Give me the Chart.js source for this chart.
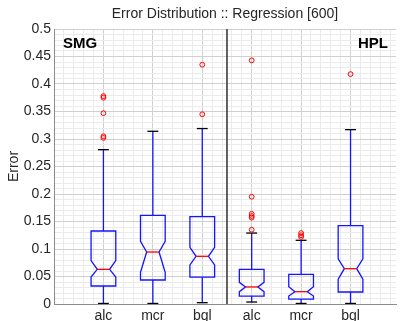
<!DOCTYPE html>
<html><head><meta charset="utf-8">
<script src="https://cdn.jsdelivr.net/npm/chart.js@4"></script>
<style>html,body{margin:0;padding:0;background:#fff}#wrap{width:401px;height:321px}</style>
</head><body><div id="wrap"><canvas id="c" width="401" height="321"></canvas></div>
<script>
const chartTitle = 'Error Distribution :: Regression [600]';
const yAxisTitle = 'Error';
const groups = ['SMG', 'HPL'];
const categories = ['alc', 'mcr', 'bgl', 'alc', 'mcr', 'bgl'];
const whiskerLo = [0.001, 0.001, 0.0024, 0.0036, 0.001, 0.001];
const q1        = [0.0327, 0.0436, 0.049, 0.0145, 0.009, 0.0218];
const median    = [0.063, 0.0945, 0.0867, 0.031, 0.0224, 0.0642];
const q3        = [0.1327, 0.161, 0.159, 0.063, 0.054, 0.1424];
const whiskerHi = [0.2806, 0.314, 0.319, 0.129, 0.1158, 0.317];
const notchLo   = [0.049, 0.0576, 0.071, 0.0224, 0.0145, 0.045];
const notchHi   = [0.0788, 0.114, 0.103, 0.0394, 0.0315, 0.082];
const outliers  = [
  [0.378, 0.375, 0.347, 0.305, 0.302],
  [],
  [0.435, 0.345],
  [0.443, 0.195, 0.164, 0.160, 0.157, 0.135],
  [0.129, 0.125, 0.122],
  [0.418]
];
const yTickLabels = ['0', '0.05', '0.1', '0.15', '0.2', '0.25', '0.3', '0.35', '0.4', '0.45', '0.5'];

const Y_MAX = 0.5, Y_MAJOR = 0.05, Y_MINOR = 0.01;
const X_MAX = 6.92, X_MINOR = 0.2;
const BOX_HW = 0.25, CAP_HW = 0.11;
const FONT = "'Liberation Sans', Arial, Helvetica, sans-serif";
const TXT = '#262626';
const BLUE = '#1414ff';

const outlierPoints = [];
outliers.forEach((arr, i) => arr.forEach(v => outlierPoints.push({x: i + 1, y: v})));

function isMult(v, step) { const r = v / step; return Math.abs(r - Math.round(r)) < 1e-6; }

const boxPlugin = {
  id: 'boxes',
  beforeDatasetsDraw(chart) {
    const {ctx, chartArea: a, scales: {x, y}} = chart;
    const X = v => x.getPixelForValue(v), Y = v => y.getPixelForValue(v);
    ctx.save();
    ctx.beginPath(); ctx.rect(a.left, a.top, a.right - a.left, a.bottom - a.top); ctx.clip();
    // group separator
    const split = categories.length / groups.length + 0.5;
    ctx.strokeStyle = '#3c3c3c'; ctx.lineWidth = 1.6;
    ctx.beginPath(); ctx.moveTo(X(split), a.top); ctx.lineTo(X(split), a.bottom); ctx.stroke();
    const seg = (x1, y1, x2, y2) => { ctx.beginPath(); ctx.moveTo(x1, y1); ctx.lineTo(x2, y2); ctx.stroke(); };
    categories.forEach((c, i) => {
      const cx = i + 1;
      ctx.lineWidth = 1.3;
      ctx.strokeStyle = BLUE;
      seg(X(cx), Y(q3[i]), X(cx), Y(whiskerHi[i]));
      seg(X(cx), Y(whiskerLo[i]), X(cx), Y(q1[i]));
      ctx.strokeStyle = '#000';
      seg(X(cx - CAP_HW), Y(whiskerHi[i]), X(cx + CAP_HW), Y(whiskerHi[i]));
      seg(X(cx - CAP_HW), Y(whiskerLo[i]), X(cx + CAP_HW), Y(whiskerLo[i]));
      ctx.strokeStyle = BLUE;
      ctx.beginPath();
      ctx.moveTo(X(cx - BOX_HW), Y(q1[i]));
      ctx.lineTo(X(cx - BOX_HW), Y(notchLo[i]));
      ctx.lineTo(X(cx - BOX_HW / 2), Y(median[i]));
      ctx.lineTo(X(cx - BOX_HW), Y(notchHi[i]));
      ctx.lineTo(X(cx - BOX_HW), Y(q3[i]));
      ctx.lineTo(X(cx + BOX_HW), Y(q3[i]));
      ctx.lineTo(X(cx + BOX_HW), Y(notchHi[i]));
      ctx.lineTo(X(cx + BOX_HW / 2), Y(median[i]));
      ctx.lineTo(X(cx + BOX_HW), Y(notchLo[i]));
      ctx.lineTo(X(cx + BOX_HW), Y(q1[i]));
      ctx.closePath();
      ctx.stroke();
      ctx.strokeStyle = '#ff0000';
      seg(X(cx - BOX_HW / 2), Y(median[i]), X(cx + BOX_HW / 2), Y(median[i]));
    });
    ctx.restore();
  },
  afterDraw(chart) {
    const {ctx, chartArea: a} = chart;
    ctx.save();
    ctx.fillStyle = TXT;
    ctx.font = '14px ' + FONT;
    ctx.textAlign = 'center'; ctx.textBaseline = 'middle';
    ctx.fillText(chartTitle, (a.left + a.right) / 2, 14);
    ctx.fillStyle = '#000';
    ctx.font = 'bold 15px ' + FONT;
    ctx.textAlign = 'left';
    ctx.fillText(groups[0], a.left + 9, 44);
    ctx.textAlign = 'right';
    ctx.fillText(groups[1], a.right - 8, 44);
    ctx.restore();
  }
};

Chart.defaults.font.family = FONT;
new Chart(document.getElementById('c'), {
  type: 'scatter',
  data: {
    datasets: [{
      data: outlierPoints,
      pointStyle: 'circle',
      pointRadius: 2.4,
      pointBorderWidth: 1,
      borderColor: '#ff0000',
      backgroundColor: 'rgba(0,0,0,0)',
      showLine: false
    }]
  },
  options: {
    responsive: false,
    animation: false,
    devicePixelRatio: 1,
    layout: {padding: {left: 0, right: 1, top: 29, bottom: 0}},
    plugins: {legend: {display: false}, tooltip: {enabled: false}, title: {display: false}},
    events: [],
    scales: {
      x: {
        type: 'linear', min: 0, max: X_MAX,
        afterBuildTicks(s) { const t = []; for (let k = 0; k * X_MINOR <= X_MAX + 1e-9; k++) t.push({value: +(k * X_MINOR).toFixed(4)}); s.ticks = t; },
        afterFit(s) { s.height = 17; },
        ticks: {
          autoSkip: false, maxRotation: 0, padding: 4, color: TXT, font: {size: 14},
          callback(v) { if (!isMult(v, 1)) return ''; const i = Math.round(v) - 1; return categories[i] || ''; }
        },
        grid: {
          drawTicks: false, lineWidth: 1,
          color: c => isMult(c.tick.value, 1) ? '#d0d0d0' : '#ebebeb'
        },
        border: {display: true, color: '#8c8c8c', width: 1}
      },
      y: {
        type: 'linear', min: 0, max: Y_MAX,
        afterBuildTicks(s) { const t = []; for (let k = 0; k * Y_MINOR <= Y_MAX + 1e-9; k++) t.push({value: +(k * Y_MINOR).toFixed(4)}); s.ticks = t; },
        afterFit(s) { s.width = 54; },
        title: {display: true, text: yAxisTitle, color: TXT, font: {size: 14}, padding: {top: 5.5, bottom: 0}},
        ticks: {
          autoSkip: false, padding: 3, color: TXT, font: {size: 14},
          callback(v) { if (!isMult(v, Y_MAJOR)) return ''; return yTickLabels[Math.round(v / Y_MAJOR)]; }
        },
        grid: {
          drawTicks: false, lineWidth: 1,
          color: c => isMult(c.tick.value, Y_MAJOR) ? '#d0d0d0' : '#ebebeb'
        },
        border: {display: true, color: '#8c8c8c', width: 1}
      }
    }
  },
  plugins: [boxPlugin]
});
</script></body></html>
